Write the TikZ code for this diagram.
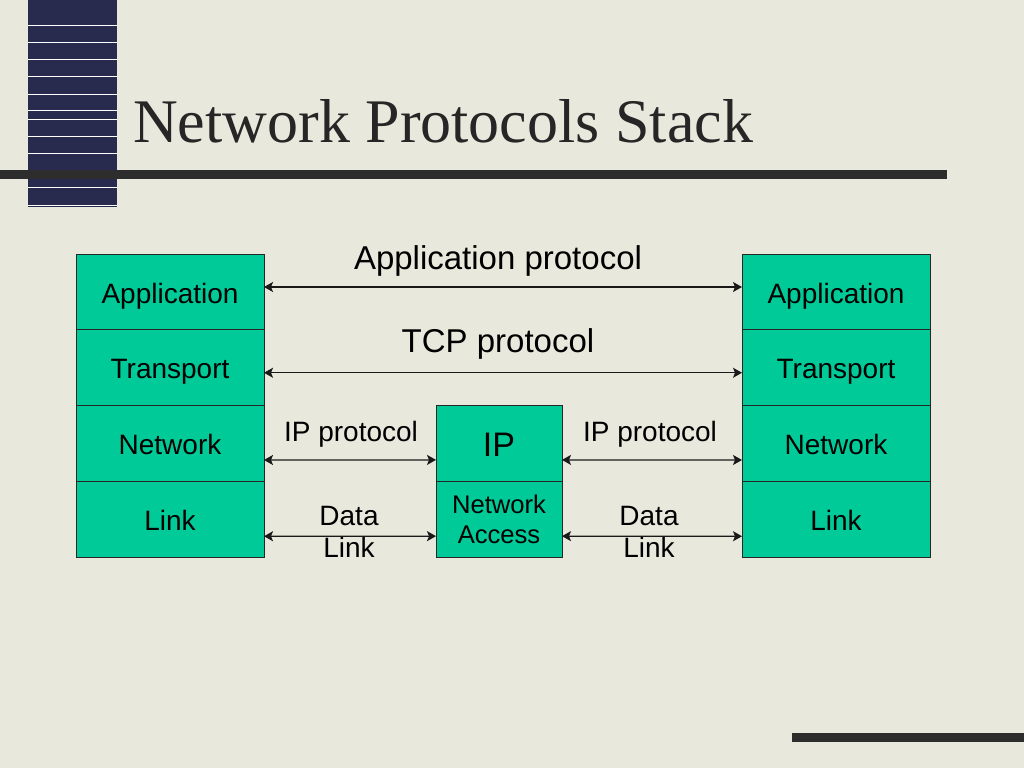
\documentclass[tikz,border=0pt]{standalone}
\usepackage{fontspec}
\setmainfont{Liberation Serif}
\newfontfamily\slidefont{Liberation Sans}
\usetikzlibrary{positioning,arrows.meta}

\definecolor{paper}{RGB}{232,232,220}
\definecolor{navy}{RGB}{40,43,78}
\definecolor{rule}{RGB}{45,45,45}
\definecolor{layer}{RGB}{0,202,152}

\tikzset{
    layerbox/.style={draw=black!85, line width=0.9pt, fill=layer, outer sep=0pt,
        minimum width=188pt, minimum height=75.75pt,
        font=\slidefont\fontsize{28}{32}\selectfont, text height=22pt, text depth=0pt},
    midbox/.style={layerbox, minimum width=126pt},
    label/.style={font=\slidefont\fontsize{28}{32}\selectfont, inner sep=0pt, align=center},
    biglabel/.style={font=\slidefont\fontsize{33}{38}\selectfont, inner sep=0pt},
    proto/.style={line width=1.3pt, black!90, <->,
        >={Stealth[length=9pt,width=10pt,inset=2pt]}}
}

\begin{document}
\begin{tikzpicture}[x=1pt,y=-1pt]
    \fill[paper] (0,0) rectangle (1024,768);
    \useasboundingbox (0,0) rectangle (1024,768);

    % barra laterale
    \fill[navy] (28,0) rectangle (117,207);
    \foreach \y in {25,42,59,76,94,110,119,136,153,187,205}
        \draw[white, line width=0.8pt] (28,\y) -- (117,\y);
    \fill[rule] (0,170) rectangle (947,179);
    \fill[rule] (792,733) rectangle (1024,742);

    % titolo
    \node[anchor=base west, inner sep=0pt, text=black!85, font=\fontsize{62}{70}\selectfont]
        (title) at (133,142) {Network Protocols Stack};

    % pila sinistra
    \node[layerbox] (lapp) at (170,292) {Application};
    \node[layerbox, below=0pt of lapp] (ltrn) {Transport};
    \node[layerbox, below=0pt of ltrn] (lnet) {Network};
    \node[layerbox, below=0pt of lnet] (llnk) {Link};

    % pila destra
    \node[layerbox] (rapp) at (836,292) {Application};
    \node[layerbox, below=0pt of rapp] (rtrn) {Transport};
    \node[layerbox, below=0pt of rtrn] (rnet) {Network};
    \node[layerbox, below=0pt of rnet] (rlnk) {Link};

    % router
    \node[midbox, font=\slidefont\fontsize{34}{38}\selectfont, text height=26pt]
        (mip) at (499,443.4) {IP};
    \node[midbox, below=0pt of mip, font=\slidefont\fontsize{25.6}{30}\selectfont,
        text height=, text depth=, align=center] (macc) {Network\\Access};

    % protocolli
    \node[biglabel, anchor=base] (appp) at (498,269) {Application protocol};
    \node[biglabel, anchor=base] (tcpp) at (498,352) {TCP protocol};
    \node[label, anchor=base] (lipp) at (351,441) {IP protocol};
    \node[label, anchor=base] (ripp) at (650,441) {IP protocol};
    \node[label] (ldl) at (349,532) {Data\\Link};
    \node[label] (rdl) at (649,532) {Data\\Link};

    \draw[proto] ([yshift=5pt]lapp.east) -- ([yshift=5pt]rapp.west);
    \draw[proto] ([yshift=-5pt]ltrn.east) -- ([yshift=-5pt]rtrn.west);
    \draw[proto] ([yshift=-16.5pt]lnet.east) -- ([yshift=-16.5pt]mip.west);
    \draw[proto] ([yshift=-16.5pt]mip.east) -- ([yshift=-16.5pt]rnet.west);
    \draw[proto] ([yshift=-17pt]llnk.east) -- ([yshift=-17pt]macc.west);
    \draw[proto] ([yshift=-17pt]macc.east) -- ([yshift=-17pt]rlnk.west);
\end{tikzpicture}
\end{document}
